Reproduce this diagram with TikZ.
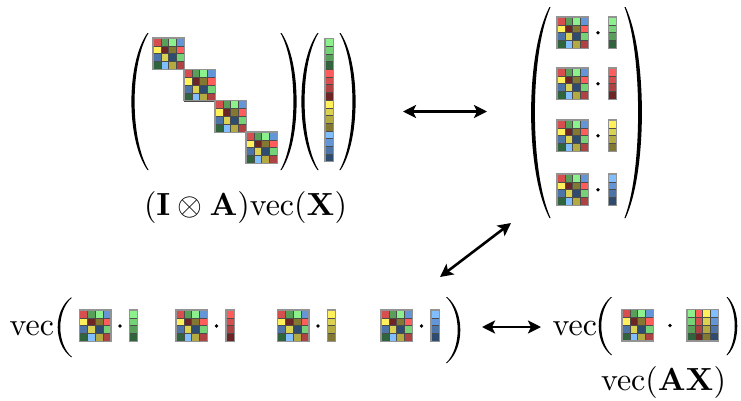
\documentclass[tikz,border=0pt]{standalone}
\usetikzlibrary{arrows.meta}
\definecolor{g1}{RGB}{140,240,140}
\definecolor{g2}{RGB}{118,210,118}
\definecolor{g3}{RGB}{88,160,90}
\definecolor{g4}{RGB}{48,100,60}
\definecolor{r1}{RGB}{255,92,92}
\definecolor{r2}{RGB}{215,78,78}
\definecolor{r3}{RGB}{175,66,66}
\definecolor{r4}{RGB}{108,36,36}
\definecolor{y1}{RGB}{255,240,92}
\definecolor{y2}{RGB}{220,210,82}
\definecolor{y3}{RGB}{180,170,66}
\definecolor{y4}{RGB}{130,120,50}
\definecolor{b1}{RGB}{128,190,255}
\definecolor{b2}{RGB}{100,150,215}
\definecolor{b3}{RGB}{76,116,166}
\definecolor{b4}{RGB}{46,76,112}
\newcommand{\Alist}{r2,g3,g1,b2,y1,r4,y4,r1,b3,y2,b4,g2,g4,b1,y3,r3}
\newcommand{\Xlist}{g1,r1,y1,b1,g2,r2,y2,b2,g3,r3,y3,b3,g4,r4,y4,b4}
\newcommand{\Xvec}{g1,g2,g3,g4,r1,r2,r3,r4,y1,y2,y3,y4,b1,b2,b3,b4}
% grid: x, y, columns, rows, cell w, cell h, colour list (a macro)
\newcommand{\drawgrid}[7]{%
  \foreach \cc [count=\k from 0] in #7 {%
    \pgfmathtruncatemacro{\ci}{mod(\k,#3)}%
    \pgfmathtruncatemacro{\ri}{div(\k,#3)}%
    \filldraw[fill=\cc, draw=black!70, line width=0.6] (#1+\ci*#5,#2+\ri*#6) rectangle ++(#5,#6);
  }%
  \draw[gray!85, line width=1.1] (#1,#2) rectangle ++(#3*#5,#4*#6);
}
% big parenthesis: x of ends, y top, y bottom, x of extreme point
\newcommand{\bparen}[4]{%
  \pgfmathsetmacro{\pa}{#2+0.22*(#3-#2)}%
  \pgfmathsetmacro{\pb}{#2+0.78*(#3-#2)}%
  \pgfmathsetmacro{\sg}{#4<#1 ? 1 : -1}%
  \pgfmathsetmacro{\pth}{1.05+0.004*(#3-#2)}%
  \pgfmathsetmacro{\co}{(4*(#4-\sg*\pth)-(#1-\sg*0.55))/3}%
  \pgfmathsetmacro{\cin}{(4*(#4+\sg*\pth)-(#1+\sg*0.55))/3}%
  \fill (#1-\sg*0.55,#2) .. controls (\co,\pa) and (\co,\pb) .. (#1-\sg*0.55,#3)
     -- (#1+\sg*0.55,#3) .. controls (\cin,\pb) and (\cin,\pa) .. (#1+\sg*0.55,#2) -- cycle;
}
\tikzset{
  dblarrow/.style={line width=2.6,
    {Stealth[length=13pt,width=13pt,inset=3pt]}-{Stealth[length=13pt,width=13pt,inset=3pt]}},
  bigtext/.style={inner sep=0pt, scale=3.2}
}
\begin{document}
\begin{tikzpicture}[x=1pt,y=-1pt]
\useasboundingbox (0,0) rectangle (741,400);
% ---------- top left: (I kron A) vec(X)
\drawgrid{153}{38}{4}{4}{7.875}{7.875}{\Alist}
\drawgrid{184}{69.3}{4}{4}{7.875}{7.875}{\Alist}
\drawgrid{215}{100.6}{4}{4}{7.875}{7.875}{\Alist}
\drawgrid{246}{132}{4}{4}{7.875}{7.875}{\Alist}
\drawgrid{325}{38.5}{1}{16}{8.2}{7.7}{\Xvec}
\bparen{148}{33}{170}{133}
\bparen{281}{33}{170}{295}
\bparen{318}{33}{170}{303}
\bparen{340}{33}{170}{354}
\node[bigtext, anchor=base] (lblA) at (245.5,215) {$(\mathbf{I}\otimes\mathbf{A})\mathrm{vec}(\mathbf{X})$};
% ---------- top right: column of products
\foreach \yy/\vv in {17/{g1,g2,g3,g4},68/{r1,r2,r3,r4},120/{y1,y2,y3,y4},174/{b1,b2,b3,b4}} {
  \drawgrid{557}{\yy}{4}{4}{7.875}{7.875}{\Alist}
  \fill (598,\yy+15.75) circle (1.9);
  \drawgrid{608.5}{\yy}{1}{4}{8.2}{7.875}{\vv}
}
\bparen{550}{7}{218}{533}
\bparen{625}{7}{218}{640}
% ---------- bottom left
\node[bigtext, anchor=base west] (vecL) at (9,335) {$\mathrm{vec}$};
\bparen{71.5}{297.5}{357}{59}
\foreach \xx/\vv in {79.5/{g1,g2,g3,g4},176/{r1,r2,r3,r4},277.5/{y1,y2,y3,y4},381/{b1,b2,b3,b4}} {
  \drawgrid{\xx}{310}{4}{4}{7.875}{7.875}{\Alist}
  \fill (\xx+40.5,326) circle (1.9);
  \drawgrid{\xx+50}{310}{1}{4}{8.2}{7.875}{\vv}
}
\bparen{446.5}{297}{363}{459}
% ---------- bottom right
\node[bigtext, anchor=base west] (vecR) at (552,335) {$\mathrm{vec}$};
\bparen{611.5}{297}{355}{600}
\drawgrid{622}{309.5}{4}{4}{7.875}{7.875}{\Alist}
\fill (670,325.5) circle (1.9);
\drawgrid{687}{309.5}{4}{4}{7.875}{7.875}{\Xlist}
\bparen{727}{297}{355}{736}
\node[bigtext, anchor=base] (lblB) at (663.5,390) {$\mathrm{vec}(\mathbf{AX})$};
% ---------- arrows
\coordinate (t1) at (403,111.5);
\coordinate (t2) at (487,111.5);
\coordinate (d1) at (440,277);
\coordinate (d2) at (511,223);
\coordinate (b1e) at (482,327);
\coordinate (b2e) at (541,327);
\draw[dblarrow] (t1) -- (t2);
\draw[dblarrow] (d1) -- (d2);
\draw[dblarrow] (b1e) -- (b2e);
\end{tikzpicture}
\end{document}
